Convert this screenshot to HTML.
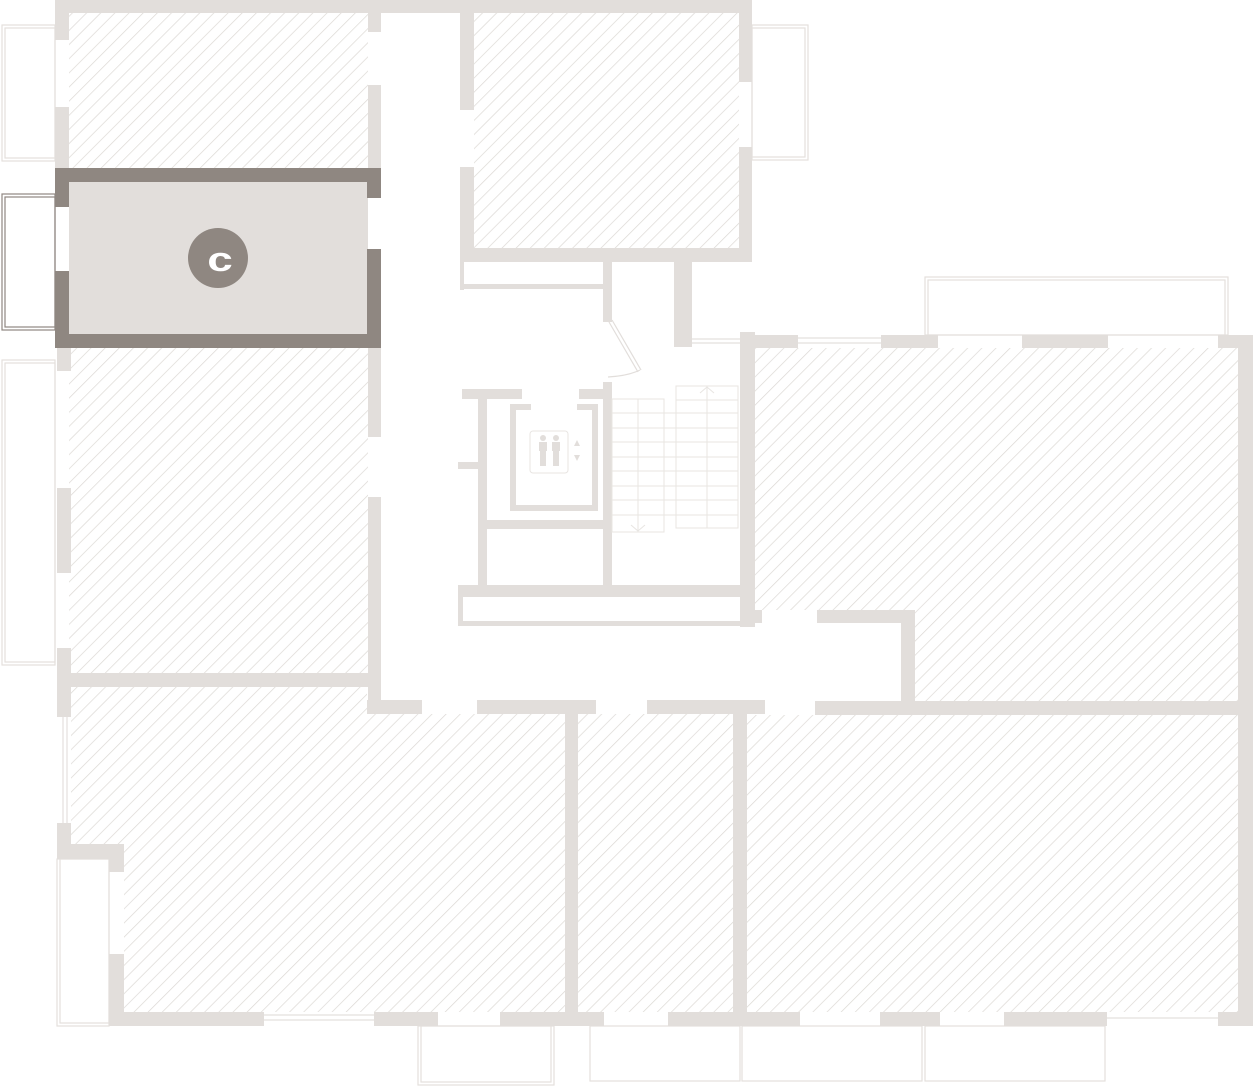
<!DOCTYPE html>
<html><head><meta charset="utf-8"><style>html,body{margin:0;padding:0;background:#fff}svg{display:block}</style></head>
<body>
<svg width="1254" height="1087" viewBox="0 0 1254 1087" xmlns="http://www.w3.org/2000/svg">
<defs>
<pattern id="h" patternUnits="userSpaceOnUse" width="10" height="10" patternTransform="rotate(45)">
<line x1="0" y1="0" x2="0" y2="10" stroke="#dcd8d4" stroke-width="1.4"/>
</pattern>
</defs>
<g fill="url(#h)">
<rect x="69" y="13" width="299" height="155"/>
<rect x="69" y="348" width="299" height="325"/>
<rect x="474" y="13" width="265" height="235"/>
<rect x="755" y="348" width="483" height="262"/>
<rect x="915" y="610" width="323" height="91"/>
<rect x="71" y="687" width="296" height="27"/>
<rect x="71" y="714" width="494" height="131"/>
<rect x="124" y="845" width="441" height="167"/>
<rect x="578" y="714" width="155" height="298"/>
<rect x="747" y="715" width="491" height="297"/>
</g>
<g fill="none" stroke="#e4e0dd" stroke-width="1.2">
<rect x="2" y="25" width="53" height="136"/><rect x="5" y="28" width="50" height="130"/>
<rect x="2" y="360" width="53" height="305"/><rect x="5" y="363" width="50" height="299"/>
<rect x="752" y="25" width="56" height="135"/><rect x="752" y="28" width="53" height="129"/>
<rect x="925" y="277" width="303" height="58"/><rect x="928" y="280" width="297" height="55"/>
<rect x="57" y="859" width="52" height="167"/><rect x="60" y="859" width="49" height="164"/>
<rect x="418" y="1026" width="136" height="59"/><rect x="421" y="1026" width="130" height="56"/>
<rect x="590" y="1026" width="150" height="55"/><rect x="742" y="1026" width="180" height="55"/>
<rect x="925" y="1026" width="180" height="55"/>
<line x1="263" y1="1015" x2="375" y2="1015"/><line x1="263" y1="1020" x2="375" y2="1020"/>
<line x1="798" y1="338" x2="881" y2="338"/><line x1="798" y1="343" x2="881" y2="343"/>
<line x1="63" y1="717" x2="63" y2="823"/><line x1="67" y1="717" x2="67" y2="823"/>
<line x1="1107" y1="1018" x2="1218" y2="1018"/>
<line x1="692" y1="339" x2="740" y2="339"/><line x1="692" y1="343" x2="740" y2="343"/>
</g>
<g fill="none" stroke="#8f8781" stroke-width="1.2">
<rect x="2" y="194" width="53" height="136"/><rect x="5" y="197" width="50" height="130"/>
</g>
<g fill="#e2dedb">
<rect x="55" y="0" width="405" height="13"/>
<rect x="55" y="0" width="14" height="40"/>
<rect x="55" y="107" width="14" height="61"/>
<rect x="368" y="13" width="13" height="19"/>
<rect x="368" y="85" width="13" height="83"/>
<rect x="57" y="348" width="14" height="23"/>
<rect x="57" y="488" width="14" height="85"/>
<rect x="57" y="648" width="14" height="69"/>
<rect x="368" y="348" width="13" height="89"/>
<rect x="368" y="497" width="13" height="217"/>
<rect x="57" y="673" width="324" height="14"/>
<rect x="367" y="700" width="55" height="14"/>
<rect x="477" y="700" width="119" height="14"/>
<rect x="647" y="700" width="118" height="14"/>
<rect x="815" y="701" width="438" height="14"/>
<rect x="57" y="823" width="14" height="36"/>
<rect x="57" y="844" width="67" height="15"/>
<rect x="109" y="844" width="15" height="28"/>
<rect x="109" y="954" width="15" height="72"/>
<rect x="109" y="1012" width="155" height="14"/>
<rect x="374" y="1012" width="64" height="14"/>
<rect x="500" y="1012" width="104" height="14"/>
<rect x="668" y="1012" width="132" height="14"/>
<rect x="880" y="1012" width="60" height="14"/>
<rect x="1004" y="1012" width="103" height="14"/>
<rect x="1218" y="1012" width="35" height="14"/>
<rect x="565" y="700" width="13" height="326"/>
<rect x="733" y="700" width="14" height="326"/>
<rect x="1238" y="335" width="15" height="691"/>
<rect x="740" y="335" width="58" height="13"/>
<rect x="881" y="335" width="57" height="13"/>
<rect x="1022" y="335" width="86" height="13"/>
<rect x="1218" y="335" width="35" height="13"/>
<rect x="740" y="332" width="15" height="295"/>
<rect x="817" y="610" width="98" height="13"/>
<rect x="901" y="610" width="14" height="91"/>
<rect x="460" y="0" width="292" height="13"/>
<rect x="460" y="0" width="14" height="110"/>
<rect x="460" y="167" width="14" height="95"/>
<rect x="739" y="0" width="13" height="82"/>
<rect x="739" y="147" width="13" height="115"/>
<rect x="460" y="248" width="292" height="14"/>
<rect x="460" y="250" width="4" height="40"/>
<rect x="460" y="284" width="146" height="5"/>
<rect x="603" y="258" width="9" height="64"/>
<rect x="674" y="262" width="18" height="85"/>
<rect x="462" y="389" width="60" height="10"/>
<rect x="579" y="389" width="33" height="10"/>
<rect x="603" y="382" width="9" height="210"/>
<rect x="478" y="389" width="9" height="205"/>
<rect x="458" y="462" width="22" height="7"/>
<rect x="487" y="520" width="116" height="9"/>
<rect x="458" y="585" width="290" height="12"/>
<rect x="458" y="595" width="5" height="31"/>
<rect x="458" y="621" width="288" height="5"/>
<rect x="740" y="595" width="6" height="31"/>
<rect x="740" y="610" width="22" height="13"/>
<rect x="510" y="404" width="6" height="107"/>
<rect x="592" y="404" width="6" height="107"/>
<rect x="510" y="505" width="88" height="6"/>
<rect x="510" y="404" width="21" height="6"/>
<rect x="577" y="404" width="21" height="6"/>
</g>
<g fill="none" stroke="#e2dedb" stroke-width="1.2">
<line x1="609" y1="322" x2="638" y2="372"/><line x1="612" y1="320" x2="641" y2="370"/>
<path d="M608 377 Q628 376 640 370"/>
</g>
<g fill="none" stroke="#e8e5e2" stroke-width="1">
<rect x="612" y="399" width="52" height="133"/>
<rect x="676" y="386" width="62" height="142"/>
<line x1="638" y1="399" x2="638" y2="532"/>
<line x1="707" y1="386" x2="707" y2="528"/>
<path d="M612 413H738M612 428H738M612 442H738M612 457H738M612 471H738M612 486H738M612 500H738M612 515H738M676 400H738"/>
<path d="M700 393 L707 387 L714 393"/><path d="M631 525 L638 531 L645 525"/>
<rect x="530" y="431" width="38" height="42" rx="3"/>
</g>
<g fill="#e2dedb">
<circle cx="543" cy="438" r="3"/><rect x="539" y="442" width="8" height="9"/><rect x="540" y="450" width="6" height="16"/>
<circle cx="556" cy="438" r="3"/><rect x="552" y="442" width="8" height="9"/><rect x="553" y="450" width="6" height="16"/>
<path d="M574 446 L577 440 L580 446Z"/><path d="M574 455 L580 455 L577 461Z"/>
</g>
<rect x="69" y="181" width="299" height="153" fill="#e2dedb"/>
<g fill="#8f8781">
<rect x="55" y="168" width="326" height="14"/>
<rect x="55" y="334" width="326" height="14"/>
<rect x="55" y="168" width="14" height="39"/>
<rect x="55" y="271" width="14" height="77"/>
<rect x="367" y="168" width="14" height="30"/>
<rect x="367" y="249" width="14" height="99"/>
<circle cx="218" cy="258" r="30"/>
</g>
<text x="0" y="0" transform="translate(220,271) scale(1.35,1)" font-family="Liberation Sans, sans-serif" font-weight="bold" font-size="34" fill="#fff" text-anchor="middle">c</text>
</svg>
</body></html>
